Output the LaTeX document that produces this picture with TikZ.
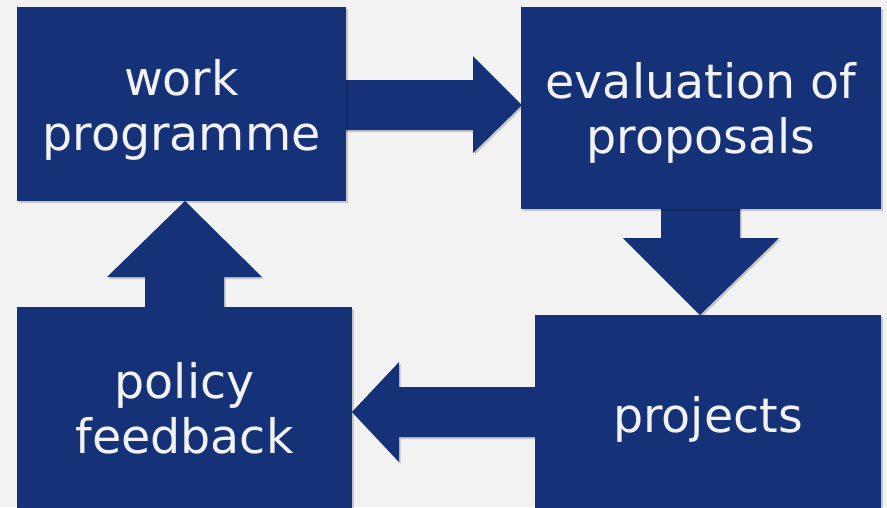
\documentclass[tikz,border=0pt]{standalone}
\usepackage{fontspec}
\setmainfont{DejaVu Sans}
\usetikzlibrary{shadows}
\definecolor{navy}{RGB}{21,49,119}
\definecolor{bg}{RGB}{242,242,242}
\definecolor{txt}{RGB}{242,242,242}
\begin{document}
\begin{tikzpicture}[x=1pt,y=-1pt,
  boxshape/.style={fill=navy, draw=none, inner sep=0pt, anchor=north west,
    drop shadow={fill=black, opacity=0.18, shadow xshift=1.5pt, shadow yshift=-2pt}},
  arr/.style={fill=navy, draw=none,
    drop shadow={fill=black, opacity=0.18, shadow xshift=1.5pt, shadow yshift=-2pt}},
  lbl/.style={text=txt, font=\fontsize{47.5}{55}\selectfont, anchor=base, inner sep=0pt}]
\useasboundingbox (0,0) rectangle (887,507);
\fill[bg] (0,0) rectangle (887,507);
% arrows (behind boxes)
\fill[arr] (340,80) -- (473,80) -- (473,56) -- (522,105) -- (473,153) -- (473,130) -- (340,130) -- cycle;
\fill[arr] (661,200) -- (661,238) -- (623,238) -- (700,315) -- (779,238) -- (740,238) -- (740,200) -- cycle;
\fill[arr] (540,387) -- (399,387) -- (399,362) -- (352,412) -- (399,462) -- (399,437) -- (540,437) -- cycle;
\fill[arr] (145,315) -- (145,277) -- (107,277) -- (185,201) -- (262,277) -- (224,277) -- (224,315) -- cycle;
% boxes
\node[boxshape, minimum width=329pt, minimum height=194pt] (wp) at (17,7) {};
\node[boxshape, minimum width=360pt, minimum height=202pt] (ev) at (521,7) {};
\node[boxshape, minimum width=346pt, minimum height=200pt] (pr) at (535,315) {};
\node[boxshape, minimum width=335pt, minimum height=208pt] (pf) at (17,307) {};
% labels
\node[lbl] (wp1) at (181.5,95) {work};
\node[lbl] (wp2) at (181.5,150) {programme};
\node[lbl] (ev1) at (701,98) {evaluation of};
\node[lbl] (ev2) at (701,153) {proposals};
\node[lbl] (pr1) at (708,432) {projects};
\node[lbl] (pf1) at (184.5,398) {policy};
\node[lbl] (pf2) at (184.5,453) {feedback};
\end{tikzpicture}
\end{document}
